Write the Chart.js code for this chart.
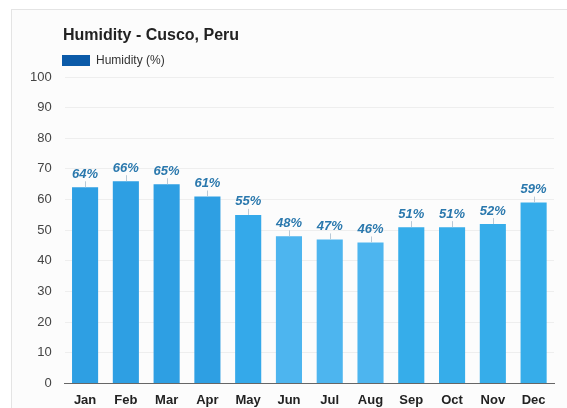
<!DOCTYPE html>
<html>
<head>
<meta charset="utf-8">
<script src="https://cdn.jsdelivr.net/npm/chart.js@4.4.1/dist/chart.umd.min.js"></script>
<style>
html,body{margin:0;padding:0;background:#fff;}
#wrap{position:relative;width:567px;height:408px;}
</style>
</head>
<body>
<div id="wrap"><canvas id="c" width="567" height="408"></canvas></div>
<script>
const titleText = "Humidity - Cusco, Peru";
const seriesName = "Humidity (%)";
const months = ["Jan","Feb","Mar","Apr","May","Jun","Jul","Aug","Sep","Oct","Nov","Dec"];
const humidity = [64,66,65,61,55,48,47,46,51,51,52,59];
const barColors = ["#2e9fe3","#2e9fe3","#2e9fe3","#2e9fe3","#34a9ea","#4db5ef","#4db5ef","#4db5ef","#36adea","#36adea","#36adea","#36adea"];
const yTicks = [0,10,20,30,40,50,60,70,80,90,100];

const FONT = "'Liberation Sans', Arial, sans-serif";

const decor = {
  id: 'decor',
  beforeDraw(chart) {
    const ctx = chart.ctx;
    ctx.save();
    ctx.fillStyle = '#ffffff';
    ctx.fillRect(0, 0, chart.width, chart.height);
    ctx.fillStyle = '#fcfcfc';
    ctx.fillRect(11.5, 9.5, chart.width, chart.height);
    ctx.strokeStyle = '#e4e4e4';
    ctx.lineWidth = 1;
    ctx.strokeRect(11.5, 9.5, chart.width, chart.height);
    ctx.restore();
  },
  afterDraw(chart) {
    const ctx = chart.ctx;
    ctx.save();
    // title
    ctx.fillStyle = '#222';
    ctx.font = "bold 16px " + FONT;
    ctx.textBaseline = 'alphabetic';
    ctx.textAlign = 'left';
    ctx.fillText(titleText, 63, 40);
    // legend
    ctx.fillStyle = '#0b5aa8';
    ctx.fillRect(62, 55, 28, 11);
    ctx.fillStyle = '#333';
    ctx.font = "12px " + FONT;
    ctx.textBaseline = 'middle';
    ctx.fillText(seriesName, 96, 60.5);
    // data labels
    const meta = chart.getDatasetMeta(0);
    meta.data.forEach((bar, i) => {
      ctx.strokeStyle = '#b9c9d6';
      ctx.lineWidth = 1;
      ctx.beginPath();
      ctx.moveTo(Math.round(bar.x) + 0.5, bar.y - 6);
      ctx.lineTo(Math.round(bar.x) + 0.5, bar.y);
      ctx.stroke();
      ctx.fillStyle = '#2a78ad';
      ctx.font = "italic bold 13px " + FONT;
      ctx.textAlign = 'center';
      ctx.textBaseline = 'middle';
      ctx.fillText(humidity[i] + '%', bar.x, bar.y - 13);
    });
    ctx.restore();
  }
};

new Chart(document.getElementById('c'), {
  type: 'bar',
  data: {
    labels: months,
    datasets: [{
      label: seriesName,
      data: humidity,
      backgroundColor: barColors,
      borderWidth: 0,
      categoryPercentage: 0.8,
      barPercentage: 0.8
    }]
  },
  options: {
    responsive: false,
    animation: false,
    devicePixelRatio: 1,
    layout: { padding: { top: 77, left: 17, right: 13, bottom: -9 } },
    plugins: {
      legend: { display: false },
      title: { display: false },
      tooltip: { enabled: false }
    },
    scales: {
      x: {
        grid: { display: false, drawTicks: false },
        border: { display: true, color: '#666', width: 1 },
        ticks: { color: '#222', font: { family: FONT, size: 13, weight: 'bold' }, padding: 9 }
      },
      y: {
        min: 0, max: 100,
        afterBuildTicks(axis) { axis.ticks = yTicks.map(v => ({ value: v })); },
        grid: { color: '#eeeeee', drawTicks: false },
        border: { display: false },
        ticks: { color: '#444', font: { family: FONT, size: 13 }, padding: 13 }
      }
    }
  },
  plugins: [decor]
});
</script>
</body>
</html>
